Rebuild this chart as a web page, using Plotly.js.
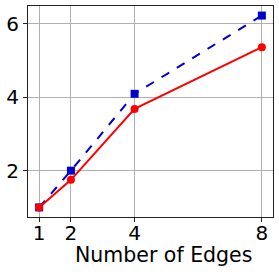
<!DOCTYPE html>
<html>
<head>
<meta charset="utf-8">
<script src="https://cdn.plot.ly/plotly-3.0.1.min.js"></script>
<style>html,body{margin:0;padding:0;background:#fff;}#chart{width:279px;height:279px;}</style>
</head>
<body>
<div id="chart"></div>
<script>
const edges = [1, 2, 4, 8];
const seriesRed = [1.0, 1.75, 3.68, 5.36];
const seriesBlue = [1.0, 2.0, 4.09, 6.22];
const xTicks = [1, 2, 4, 8];
const yTicks = [2, 4, 6];
const xTitle = 'Number of Edges';

const traces = [
  {x: edges, y: seriesBlue, mode: 'lines+markers', type: 'scatter',
   line: {color: '#0000cd', width: 2, dash: 'dash'},
   marker: {color: '#0000cd', symbol: 'square', size: 8}},
  {x: edges, y: seriesRed, mode: 'lines+markers', type: 'scatter',
   line: {color: '#ff0000', width: 2},
   marker: {color: '#ff0000', symbol: 'circle', size: 8}}
];

const layout = {
  width: 279, height: 279,
  margin: {l: 28, r: 6, t: 6, b: 62},
  showlegend: false,
  paper_bgcolor: '#fff', plot_bgcolor: '#fff',
  font: {family: 'DejaVu Sans', color: '#000'},
  xaxis: {
    range: [0.65, 8.35], tickvals: xTicks, ticktext: xTicks.map(String),
    showgrid: true, gridcolor: '#b0b0b0', gridwidth: 1,
    zeroline: false, showline: true, linecolor: '#222', linewidth: 1, mirror: true,
    ticks: 'outside', ticklen: 4, tickcolor: '#222',
    ticklabelstandoff: -6,
    tickfont: {family: 'DejaVu Sans', size: 20, color: '#000'}
  },
  yaxis: {
    range: [0.739, 6.48], tickvals: yTicks, ticktext: yTicks.map(String),
    showgrid: true, gridcolor: '#b0b0b0', gridwidth: 1,
    zeroline: false, showline: true, linecolor: '#222', linewidth: 1, mirror: true,
    ticks: 'outside', ticklen: 4, tickcolor: '#222',
    tickfont: {family: 'DejaVu Sans', size: 20, color: '#000'}
  },
  annotations: [{
    text: xTitle, xref: 'paper', yref: 'paper', x: 0.555, y: -0.18,
    xanchor: 'center', yanchor: 'middle', showarrow: false,
    font: {family: 'DejaVu Sans', size: 20.5, color: '#000'}
  }]
};
Plotly.newPlot('chart', traces, layout, {staticPlot: true, displayModeBar: false});
</script>
</body>
</html>
